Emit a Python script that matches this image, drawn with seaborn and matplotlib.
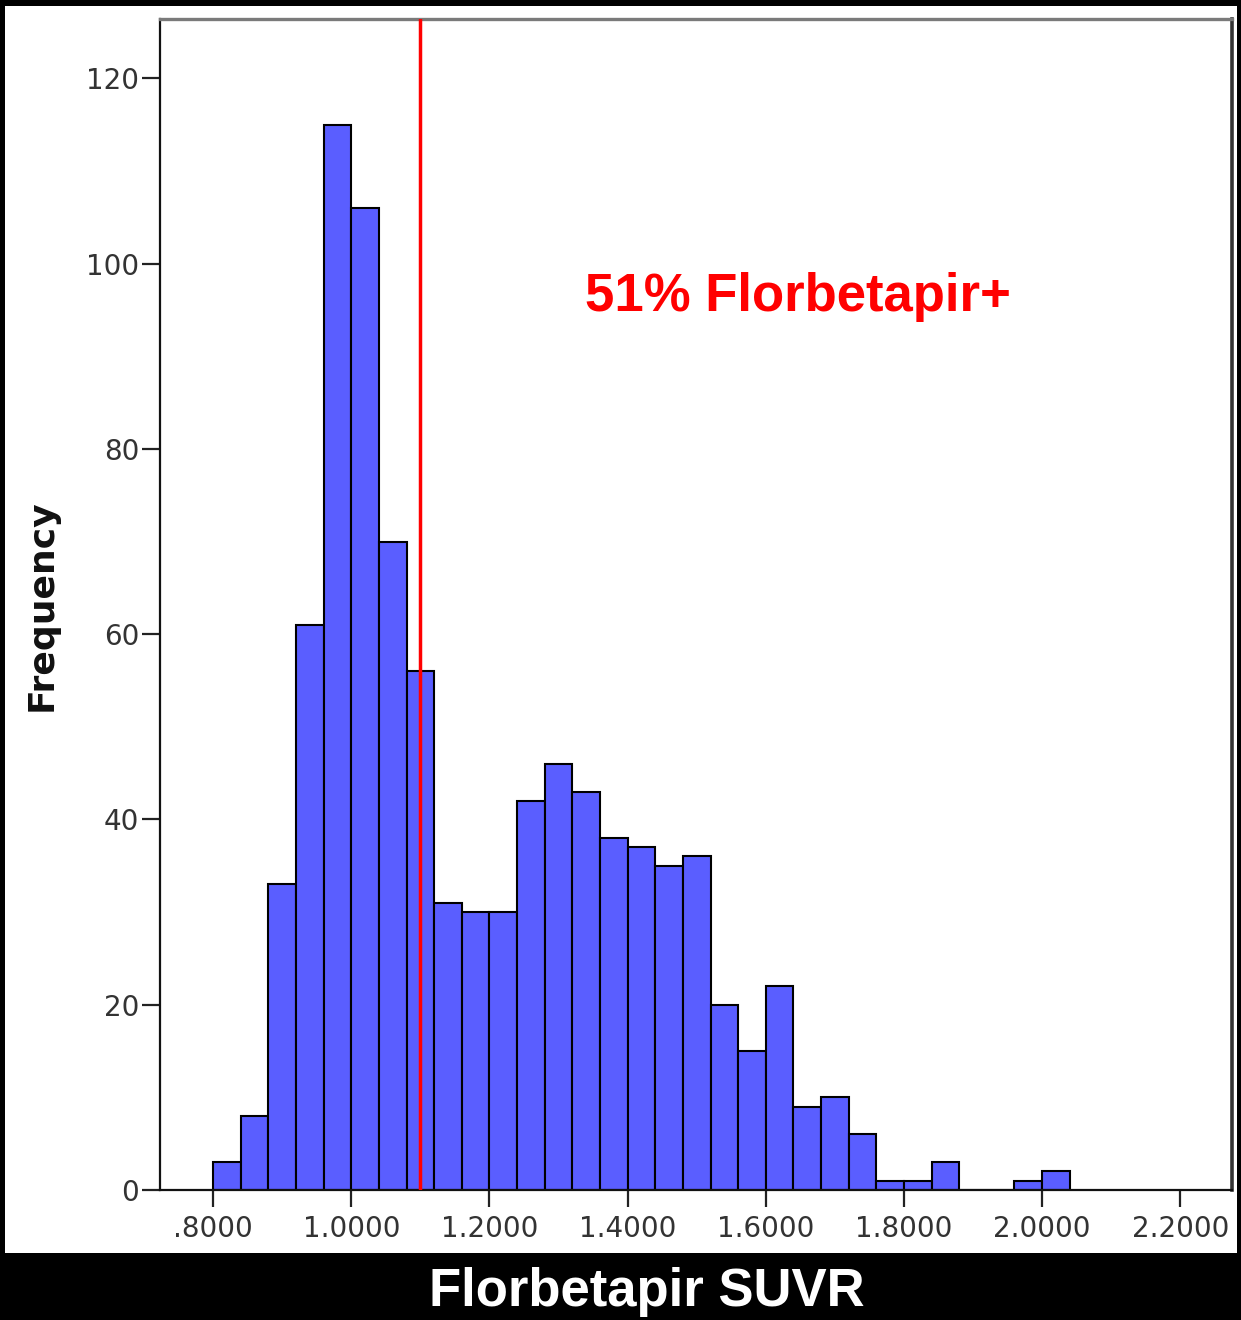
import numpy as np
import pandas as pd
import seaborn as sns
import matplotlib
matplotlib.use("Agg")
import matplotlib.pyplot as plt
from matplotlib.patches import Rectangle
from matplotlib.ticker import FuncFormatter

# Histogram of florbetapir SUVR: bins of width 0.04 starting at 0.80
bin_start = 0.80
bin_width = 0.04
counts = [3, 8, 33, 61, 115, 106, 70, 56, 31, 30, 30, 42, 46, 43, 38, 37,
          35, 36, 20, 15, 22, 9, 10, 6, 1, 1, 3, 0, 0, 1, 2]
cutoff = 1.10
x_ticks = [0.8, 1.0, 1.2, 1.4, 1.6, 1.8, 2.0, 2.2]
y_ticks = [0, 20, 40, 60, 80, 100, 120]
annotation = "51% Florbetapir+"
x_label = "Florbetapir SUVR"
y_label = "Frequency"

edges = [round(bin_start + bin_width * i, 4) for i in range(len(counts) + 1)]
centers = [(a + b) / 2 for a, b in zip(edges[:-1], edges[1:])]
df = pd.DataFrame({"suvr": centers, "n": counts})

sns.set_theme(style="ticks")
plt.rcParams["font.family"] = ["DejaVu Sans"]

W, H = 1241, 1320
fig = plt.figure(figsize=(W / 100, H / 100), dpi=100, facecolor="black")
fig.patches.append(Rectangle((5 / W, 1 - 1253 / H), (1237 - 5) / W, (1253 - 6) / H,
                             transform=fig.transFigure, facecolor="white",
                             edgecolor="none", zorder=-10))

ax = fig.add_axes([160 / W, 1 - 1190 / H, (1232 - 160) / W, (1190 - 19) / H])
ax.set_zorder(1)
ax.set_facecolor("white")

sns.histplot(data=df, x="suvr", weights="n", bins=edges, ax=ax,
             color="#5a5eff", alpha=1, edgecolor="black", linewidth=1.5)

ax.axvline(cutoff, color="red", lw=2.5, zorder=5)

ax.set_xlim(0.723, 2.275)
ax.set_ylim(0, 126.4)
ax.set_xticks(x_ticks)
ax.set_yticks(y_ticks)


def fmt_x(v, pos):
    s = f"{v:.4f}"
    return s[1:] if s.startswith("0") else s


ax.xaxis.set_major_formatter(FuncFormatter(fmt_x))
ax.tick_params(axis="x", direction="out", length=12, width=1.6, colors="#222222",
               labelsize=20, pad=6)
ax.tick_params(axis="y", direction="out", length=13, width=1.6, colors="#222222",
               labelsize=20, pad=2)
for lbl in ax.get_xticklabels() + ax.get_yticklabels():
    lbl.set_color("#333333")

ax.set_xlabel("")
ax.set_ylabel("")

for side in ["left", "bottom"]:
    ax.spines[side].set_color("#111111")
    ax.spines[side].set_linewidth(1.6)
ax.spines["top"].set_visible(True)
ax.spines["right"].set_visible(True)
ax.spines["top"].set_color("#7a7a7a")
ax.spines["top"].set_linewidth(2.4)
ax.spines["right"].set_color("#333333")
ax.spines["right"].set_linewidth(2.6)

ax.text(1.339, 96.4, annotation, color="red", fontsize=38, fontweight="bold",
        family="Liberation Sans", ha="left", va="center")

fig.text(42 / W, 1 - 605 / H, y_label, rotation=90, ha="center", va="center",
         fontsize=26, fontweight="bold", color="#111111")
fig.text(647 / W, 1 - 1292 / H, x_label, ha="center", va="center",
         fontsize=38, fontweight="bold", color="white", family="Liberation Sans")

fig.savefig("out.png", dpi=100, facecolor="black")
